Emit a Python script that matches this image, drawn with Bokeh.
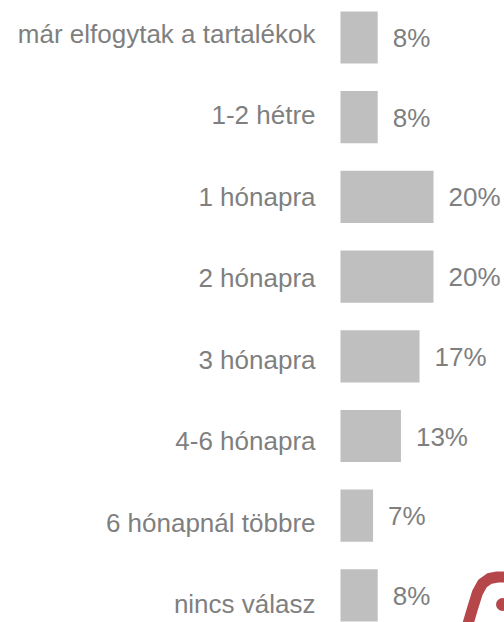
from bokeh.plotting import figure
from bokeh.models import Range1d, ColumnDataSource
from bokeh.core.properties import value
from bokeh.embed import file_html
from bokeh.resources import INLINE

categories = ["már elfogytak a tartalékok", "1-2 hétre", "1 hónapra", "2 hónapra",
              "3 hónapra", "4-6 hónapra", "6 hónapnál többre", "nincs válasz"]
values = [8, 8, 20, 20, 17, 13, 7, 8]
value_labels = ["8%", "8%", "20%", "20%", "17%", "13%", "7%", "8%"]

W, H = 504, 622
X0 = 340.0        # pixel of value 0
PX_PER = 4.65     # pixels per percent
ROW0 = 37.0       # pixel centre of first bar row
ROW_STEP = 79.7   # pixels per bar row
LAB0 = 35.5       # pixel centre of first category label
LAB_STEP = 81.5   # pixels per category label row

x_start = -X0 / PX_PER
x_end = (W - X0) / PX_PER
y_top = -ROW0 / ROW_STEP
y_bottom = (H - ROW0) / ROW_STEP

p = figure(width=W, height=H, output_backend="svg", toolbar_location=None,
           x_range=Range1d(x_start, x_end), y_range=Range1d(y_bottom, y_top),
           min_border=0, min_border_left=0, min_border_right=0,
           min_border_top=0, min_border_bottom=0)
p.extra_y_ranges = {"labels": Range1d((H - LAB0) / LAB_STEP, -LAB0 / LAB_STEP)}
p.axis.visible = False
p.grid.visible = False
p.outline_line_color = None
p.background_fill_color = "white"
p.border_fill_color = "white"

ys = list(range(len(categories)))
src = ColumnDataSource(dict(y=ys, v=values, cat=categories, lab=value_labels,
                            zero=[0] * len(ys)))

p.hbar(y="y", left="zero", right="v", height=0.655, source=src,
       fill_color="#BFBFBF", line_color=None)

p.text(x="zero", y="y", text="cat", source=src, x_offset=-25, y_offset=-2.5,
       y_range_name="labels",
       text_align="right", text_baseline="middle",
       text_font=value("Liberation Sans"), text_font_size="26px",
       text_color="#7F7F7F")

p.text(x="v", y="y", text="lab", source=src, x_offset=15, y_offset=0.5,
       text_align="left", text_baseline="middle",
       text_font=value("Liberation Sans"), text_font_size="26px",
       text_color="#7F7F7F")

# partial red logo in the bottom-right corner (decoration)
def dx(px):
    return x_start + px / PX_PER

def dy(py):
    return y_top + py / ROW_STEP

path_px = [(467, 625), (472, 608), (477, 592), (482, 583), (489, 578), (497, 576.5), (506, 576.5)]
p.line(x=[dx(a) for a, b in path_px], y=[dy(b) for a, b in path_px],
       line_color="#B5474B", line_width=11, line_cap="round", line_join="round")
p.scatter(x=[dx(502)], y=[dy(604)], size=13, fill_color="#B5474B", line_color=None)

open("out.html", "w").write(file_html(p, INLINE))
